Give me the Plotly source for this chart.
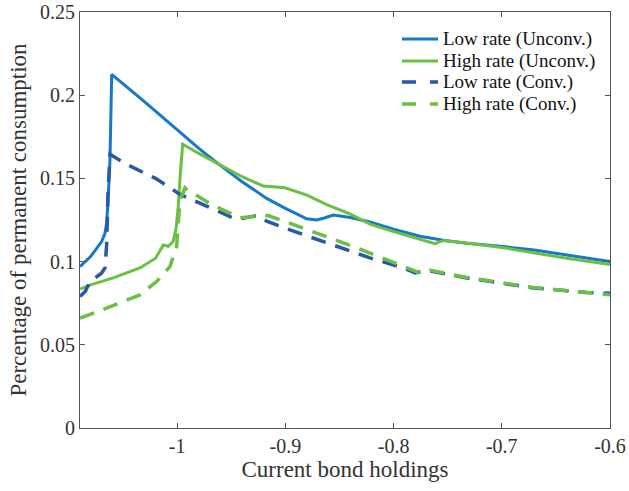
import plotly.graph_objects as go

# Low rate (Unconv.)
x_lu = [-1.0898, -1.0800, -1.0698, -1.0667, -1.0652, -1.0640, -1.0621, -1.0605,
        -1.0300, -1.0000, -0.9800, -0.9604, -0.9400, -0.9173, -0.9000, -0.8803,
        -0.8711, -0.8640, -0.8557, -0.8400, -0.8218, -0.8000, -0.7756, -0.7541,
        -0.7324, -0.7017, -0.6700, -0.6400, -0.6000]
y_lu = [0.097, 0.103, 0.112, 0.117, 0.123, 0.135, 0.161, 0.2125,
        0.196, 0.179, 0.168, 0.158, 0.148, 0.138, 0.132, 0.1257,
        0.1250, 0.1262, 0.1280, 0.1265, 0.1238, 0.1195, 0.1152, 0.1128,
        0.1110, 0.1092, 0.1070, 0.1040, 0.1000]

# High rate (Unconv.)
x_hu = [-1.0898, -1.0800, -1.0591, -1.0344, -1.0200, -1.0128, -1.0082, -1.0036,
        -1.0010, -0.9990, -0.9974, -0.9949, -0.9800, -0.9604, -0.9400, -0.9204,
        -0.9004, -0.8800, -0.8618, -0.8400, -0.8218, -0.8000, -0.7756, -0.7617,
        -0.7541, -0.7324, -0.7000, -0.6709, -0.6400, -0.6000]
y_hu = [0.0835, 0.0860, 0.0902, 0.0962, 0.1020, 0.1100, 0.1092, 0.1122,
        0.1200, 0.1333, 0.1500, 0.1705, 0.1650, 0.1580, 0.1510, 0.1454,
        0.1444, 0.1400, 0.1343, 0.1285, 0.1225, 0.1180, 0.1133, 0.1108,
        0.1127, 0.1112, 0.1085, 0.1052, 0.1020, 0.0982]

# Low rate (Conv.)
x_lc = [-1.0898, -1.0850, -1.0804, -1.0700, -1.0667, -1.0652, -1.0640, -1.0621,
        -1.0467, -1.0200, -0.9974, -0.9543, -0.9450, -0.9265, -0.9173, -0.9000,
        -0.8742, -0.8500, -0.8218, -0.7910, -0.7802, -0.7694, -0.7324, -0.7000,
        -0.6709, -0.6400, -0.6215, -0.6000]
y_lc = [0.079, 0.082, 0.088, 0.093, 0.0962, 0.110, 0.140, 0.1645,
        0.1584, 0.1500, 0.1404, 0.1283, 0.1253, 0.1277, 0.1243, 0.1200,
        0.1143, 0.1085, 0.1022, 0.0962, 0.0932, 0.0948, 0.0902, 0.0870,
        0.0842, 0.0825, 0.0815, 0.0810]

# High rate (Conv.)
x_hc = [-1.0898, -1.0690, -1.0344, -1.0190, -1.0067, -1.0005, -0.9974, -0.9928,
        -0.9912, -0.9700, -0.9420, -0.9158, -0.9000, -0.8835, -0.8600, -0.8341,
        -0.8100, -0.7910, -0.7756, -0.7664, -0.7324, -0.7000, -0.6709, -0.6400,
        -0.6000]
y_hc = [0.066, 0.071, 0.080, 0.088, 0.097, 0.109, 0.137, 0.1444,
        0.1434, 0.1350, 0.1263, 0.1277, 0.1240, 0.1203, 0.1145, 0.1083,
        0.1020, 0.0972, 0.0932, 0.0948, 0.0905, 0.0872, 0.0845, 0.0825,
        0.0801]

names = ["Low rate (Unconv.)", "High rate (Unconv.)", "Low rate (Conv.)", "High rate (Conv.)"]
x_ticks = [-1, -0.9, -0.8, -0.7, -0.6]
x_ticktext = ["-1", "-0.9", "-0.8", "-0.7", "-0.6"]
y_ticks = [0, 0.05, 0.1, 0.15, 0.2, 0.25]
y_ticktext = ["0", "0.05", "0.1", "0.15", "0.2", "0.25"]

blue = "#1679c6"
green = "#6bbf42"
dblue = "#2a58a8"
colors = [blue, green, dblue, green]
dashes = ["solid", "solid", "15px,10px", "15px,10px"]
widths = [3, 3, 3.5, 3.5]
legend_dashes = ["solid", "solid", "14px,14px", "14px,14px"]

series = [(x_lu, y_lu), (x_hu, y_hu), (x_lc, y_lc), (x_hc, y_hc)]

fig = go.Figure()
for (xs, ys), name, c, d, w in zip(series, names, colors, dashes, widths):
    fig.add_trace(go.Scatter(x=xs, y=ys, mode="lines", name=name,
                             line=dict(color=c, width=w, dash=d), showlegend=False))

font_family = "Liberation Serif"

# manual legend (box off, MATLAB style)
row_y = [0.9351, 0.8822, 0.8317, 0.7788]
for i, name in enumerate(names):
    fig.add_shape(type="line", xref="paper", yref="paper",
                  x0=0.6075, x1=0.6755, y0=row_y[i], y1=row_y[i],
                  line=dict(color=colors[i], width=widths[i], dash=legend_dashes[i]))
    fig.add_annotation(xref="paper", yref="paper", x=0.6811, y=row_y[i],
                       xanchor="left", yanchor="middle", showarrow=False,
                       text=name, font=dict(family=font_family, size=19, color="#111111"))

axis_common = dict(showline=True, linecolor="#555555", linewidth=1, mirror="ticks",
                   ticks="inside", ticklen=5, tickcolor="#555555", showgrid=False,
                   zeroline=False, automargin=False,
                   tickfont=dict(family=font_family, size=20, color="#333333"))

fig.update_layout(
    width=629, height=491,
    margin=dict(l=80, r=19, t=12, b=63),
    plot_bgcolor="white", paper_bgcolor="white",
    font=dict(family=font_family, color="#333333"),
    xaxis=dict(range=[-1.0898, -0.6], tickvals=x_ticks, ticktext=x_ticktext,
               title=dict(text="Current bond holdings", font=dict(size=23, family=font_family), standoff=2),
               **axis_common),
    yaxis=dict(range=[0, 0.25], tickvals=y_ticks, ticktext=y_ticktext,
               title=dict(text="Percentage of permanent consumption", font=dict(size=23, family=font_family), standoff=6),
               **axis_common),
    showlegend=False,
)

fig.write_html("out.html")
